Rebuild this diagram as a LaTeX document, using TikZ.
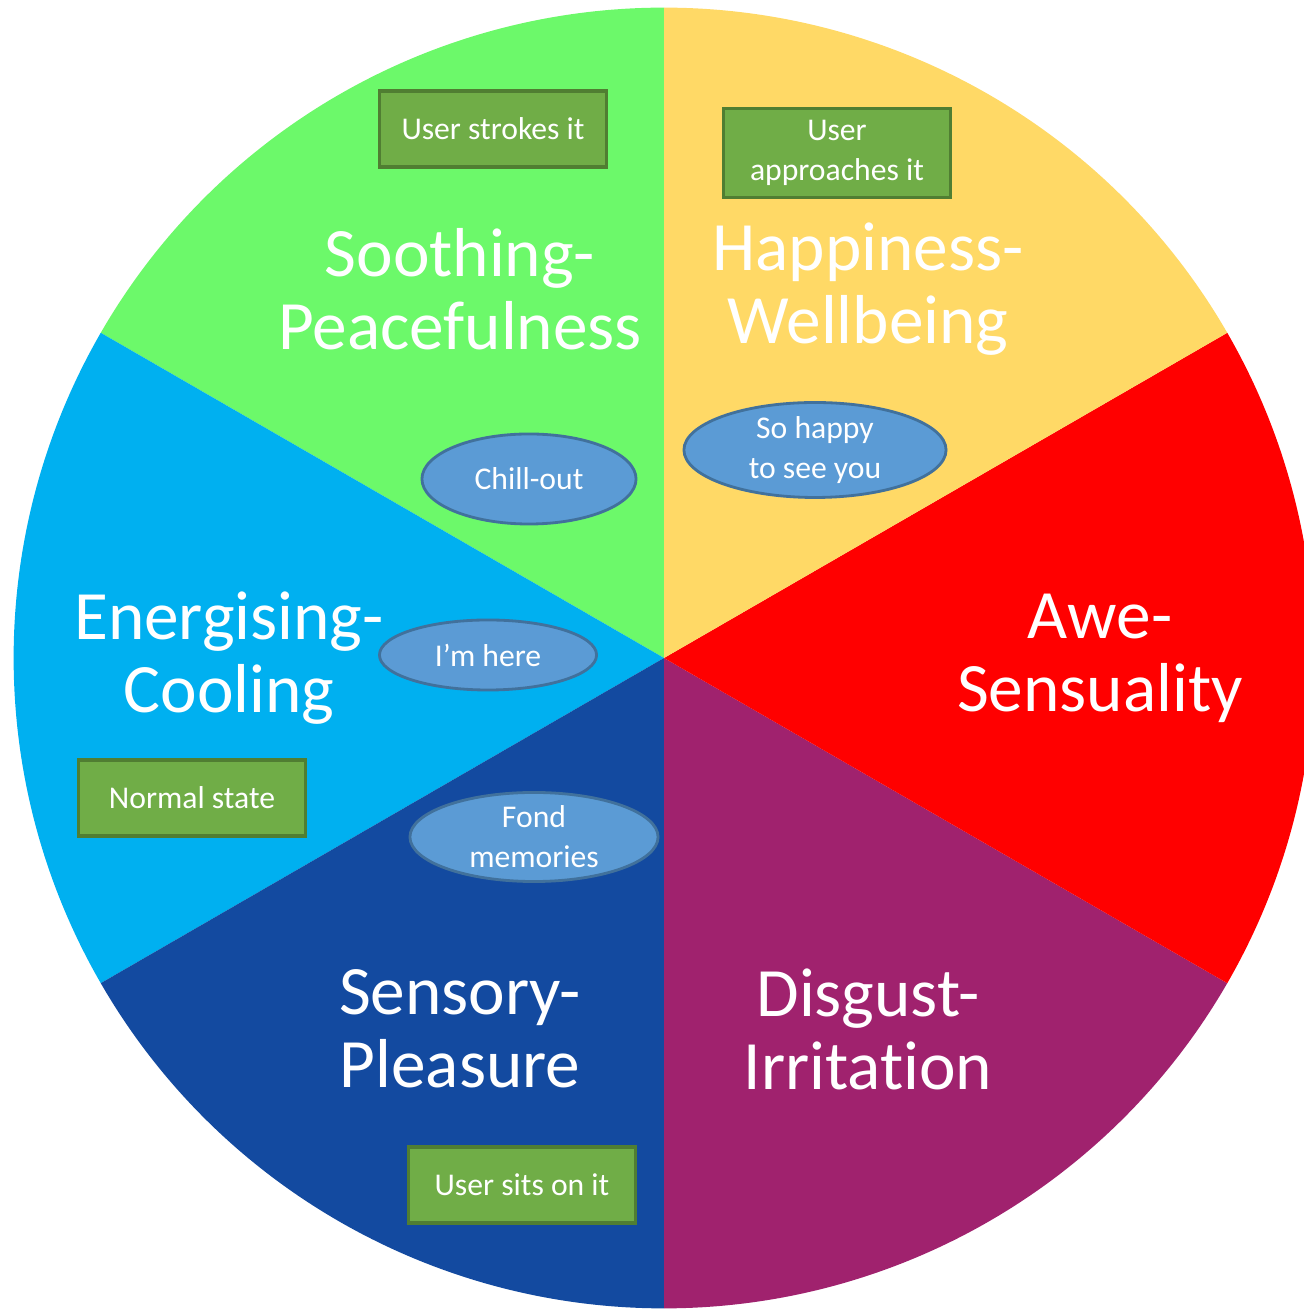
\documentclass[tikz,border=0pt]{standalone}
\usepackage{fontspec}
\setmainfont[Ligatures=NoCommon]{Carlito}
\definecolor{soothe}{RGB}{108,249,106}
\definecolor{happy}{RGB}{255,217,102}
\definecolor{awe}{RGB}{255,0,0}
\definecolor{disgust}{RGB}{160,34,110}
\definecolor{sensory}{RGB}{19,74,160}
\definecolor{energy}{RGB}{0,176,240}
\definecolor{boxfill}{RGB}{112,173,71}
\definecolor{boxline}{RGB}{80,126,50}
\definecolor{ovalfill}{RGB}{91,155,213}
\definecolor{ovalline}{RGB}{65,113,156}
\tikzset{
  trigger/.style={draw=boxline,line width=1pt,fill=boxfill,text=white,
    minimum width=2.27cm,minimum height=0.76cm,align=center,
    font=\fontsize{9}{11.4}\selectfont},
  mood/.style={ellipse,draw=ovalline,line width=0.8pt,fill=ovalfill,text=white,
    inner sep=0pt,align=center,font=\fontsize{9}{11.4}\selectfont},
  emotion/.style={text=white,align=center,font=\fontsize{19.7}{20.8}\selectfont}
}
\usetikzlibrary{shapes.geometric}
\begin{document}
\begin{tikzpicture}[x=0.01cm,y=0.01cm]
\useasboundingbox (0,0) rectangle (1304,1309);
\clip (0,0) rectangle (1304,1309);
\coordinate (c) at (664,651);
% the six sectors
\fill[soothe] (c) -- ++(90:6.5cm) arc[start angle=90,end angle=150,radius=6.5cm] -- cycle;
\fill[energy] (c) -- ++(150:6.5cm) arc[start angle=150,end angle=210,radius=6.5cm] -- cycle;
\fill[sensory] (c) -- ++(210:6.5cm) arc[start angle=210,end angle=270,radius=6.5cm] -- cycle;
\fill[disgust] (c) -- ++(270:6.5cm) arc[start angle=270,end angle=330,radius=6.5cm] -- cycle;
\fill[awe] (c) -- ++(330:6.5cm) arc[start angle=330,end angle=390,radius=6.5cm] -- cycle;
\fill[happy] (c) -- ++(30:6.5cm) arc[start angle=30,end angle=90,radius=6.5cm] -- cycle;

\node[emotion] (soothing) at (460,1020) {Soothing-\\Peacefulness};
\node[emotion] (happiness) at (868,1020) {Happiness-\\Wellbeing};
\node[emotion] (awe) at (1100,651) {Awe-\\Sensuality};
\node[emotion] (energising) at (229,651) {Energising-\\Cooling};
\node[emotion] (sensory) at (460,280) {Sensory-\\Pleasure};
\node[emotion] (disgust) at (868,280) {Disgust-\\Irritation};

\node[trigger] (strokes) at (493,1180) {User strokes it};
\node[trigger] (approaches) at (837,1156) {User\\approaches it};
\node[trigger] (normal) at (192,511) {Normal state};
\node[trigger] (sits) at (522,124) {User sits on it};

\node[mood,minimum width=2.14cm,minimum height=0.9cm] (chill) at (529,830) {Chill-out};
\node[mood,minimum width=2.62cm,minimum height=0.91cm] (sohappy) at (815,859) {So happy\\to see you};
\node[mood,minimum width=2.17cm,minimum height=0.7cm] (here) at (488,654) {I’m here};
\node[mood,minimum width=2.48cm,minimum height=0.89cm] (fond) at (534,472) {Fond\\memories};
\end{tikzpicture}
\end{document}
